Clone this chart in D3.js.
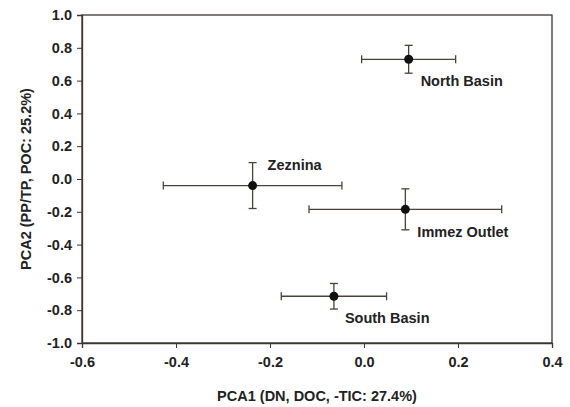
<!DOCTYPE html>
<html>
<head>
<meta charset="utf-8">
<script src="https://cdn.jsdelivr.net/npm/d3@7"></script>
<style>
  body { margin: 0; background: #fff; }
  text { font-family: "Liberation Sans", Arial, sans-serif; font-weight: bold; fill: #222; }
</style>
</head>
<body>
<script>
// site names and PCA scores (mean +/- error)
var sites = ["North Basin", "Zeznina", "Immez Outlet", "South Basin"];
var pca1 = [0.095, -0.237, 0.088, -0.064];
var pca1Err = [0.100, 0.190, 0.205, 0.112];
var pca2 = [0.730, -0.040, -0.185, -0.715];
var pca2Err = [0.085, 0.140, 0.125, 0.078];
var xTicks = [-0.6, -0.4, -0.2, 0.0, 0.2, 0.4];
var yTicks = [-1.0, -0.8, -0.6, -0.4, -0.2, 0.0, 0.2, 0.4, 0.6, 0.8, 1.0];

var width = 570, height = 407;
var margin = {top: 15, right: 18, bottom: 64, left: 82};
var fs = 14.5;

var svg = d3.select("body").append("svg")
  .attr("width", width)
  .attr("height", height);

var x = d3.scaleLinear().domain([-0.6, 0.4]).range([margin.left, width - margin.right]);
var y = d3.scaleLinear().domain([-1.0, 1.0]).range([height - margin.bottom, margin.top]);

var axisColor = "#3d3532";
var fmt = function(d) { return d.toFixed(1); }; // plain hyphen minus like the original

//frame
svg.append("rect")
  .attr("x", x(-0.6)).attr("y", y(1.0))
  .attr("width", x(0.4) - x(-0.6))
  .attr("height", y(-1.0) - y(1.0))
  .attr("fill", "none")
  .attr("stroke", axisColor)
  .attr("stroke-width", 1.3);

var xAxis = svg.append("g")
  .attr("transform", "translate(0," + y(-1.0) + ")")
  .call(d3.axisBottom(x).tickValues(xTicks).tickFormat(fmt).tickSize(5).tickPadding(9));

var yAxis = svg.append("g")
  .attr("transform", "translate(" + x(-0.6) + ",0)")
  .call(d3.axisLeft(y).tickValues(yTicks).tickFormat(fmt).tickSize(5).tickPadding(5));

[xAxis, yAxis].forEach(function(g) {
  g.select(".domain").attr("stroke", axisColor).attr("stroke-width", 1.3);
  g.selectAll(".tick line").attr("stroke", axisColor);
  g.selectAll(".tick text").attr("font-size", fs).attr("fill", "#222")
    .style("font-family", "'Liberation Sans', Arial, sans-serif").style("font-weight", "bold");
});

//axis titles
svg.append("text")
  .attr("x", (x(-0.6) + x(0.4)) / 2)
  .attr("y", 401)
  .attr("text-anchor", "middle")
  .attr("font-size", fs)
  .text("PCA1 (DN, DOC, -TIC: 27.4%)");

svg.append("text")
  .attr("transform", "translate(31," + y(0) + ") rotate(-90)")
  .attr("text-anchor", "middle")
  .attr("font-size", fs)
  .text("PCA2 (PP/TP, POC: 25.2%)");

var data = sites.map(function(s, i) {
  return {name: s, x: pca1[i], xe: pca1Err[i], y: pca2[i], ye: pca2Err[i]};
});

var barColor = "#4a403c", cap = 4;
var pts = svg.selectAll(".pt").data(data).enter().append("g").attr("class", "pt");

//horizontal error bars
pts.append("line")
  .attr("x1", function(d) { return x(d.x - d.xe); })
  .attr("x2", function(d) { return x(d.x + d.xe); })
  .attr("y1", function(d) { return y(d.y); })
  .attr("y2", function(d) { return y(d.y); })
  .attr("stroke", barColor).attr("stroke-width", 1.3);
[-1, 1].forEach(function(sgn) {
  pts.append("line")
    .attr("x1", function(d) { return x(d.x + sgn * d.xe); })
    .attr("x2", function(d) { return x(d.x + sgn * d.xe); })
    .attr("y1", function(d) { return y(d.y) - cap; })
    .attr("y2", function(d) { return y(d.y) + cap; })
    .attr("stroke", barColor).attr("stroke-width", 1.3);
});

//vertical error bars
pts.append("line")
  .attr("x1", function(d) { return x(d.x); })
  .attr("x2", function(d) { return x(d.x); })
  .attr("y1", function(d) { return y(d.y - d.ye); })
  .attr("y2", function(d) { return y(d.y + d.ye); })
  .attr("stroke", barColor).attr("stroke-width", 1.3);
[-1, 1].forEach(function(sgn) {
  pts.append("line")
    .attr("x1", function(d) { return x(d.x) - cap; })
    .attr("x2", function(d) { return x(d.x) + cap; })
    .attr("y1", function(d) { return y(d.y + sgn * d.ye); })
    .attr("y2", function(d) { return y(d.y + sgn * d.ye); })
    .attr("stroke", barColor).attr("stroke-width", 1.3);
});

pts.append("circle")
  .attr("cx", function(d) { return x(d.x); })
  .attr("cy", function(d) { return y(d.y); })
  .attr("r", 4.5)
  .attr("fill", "#111");

//site labels
var labelOffset = {
  "North Basin": [12, 27],
  "Zeznina": [15, -16],
  "Immez Outlet": [12, 28],
  "South Basin": [11, 27]
};
pts.append("text")
  .attr("x", function(d) { return x(d.x) + labelOffset[d.name][0]; })
  .attr("y", function(d) { return y(d.y) + labelOffset[d.name][1]; })
  .attr("font-size", fs)
  .text(function(d) { return d.name; });
</script>
</body>
</html>
